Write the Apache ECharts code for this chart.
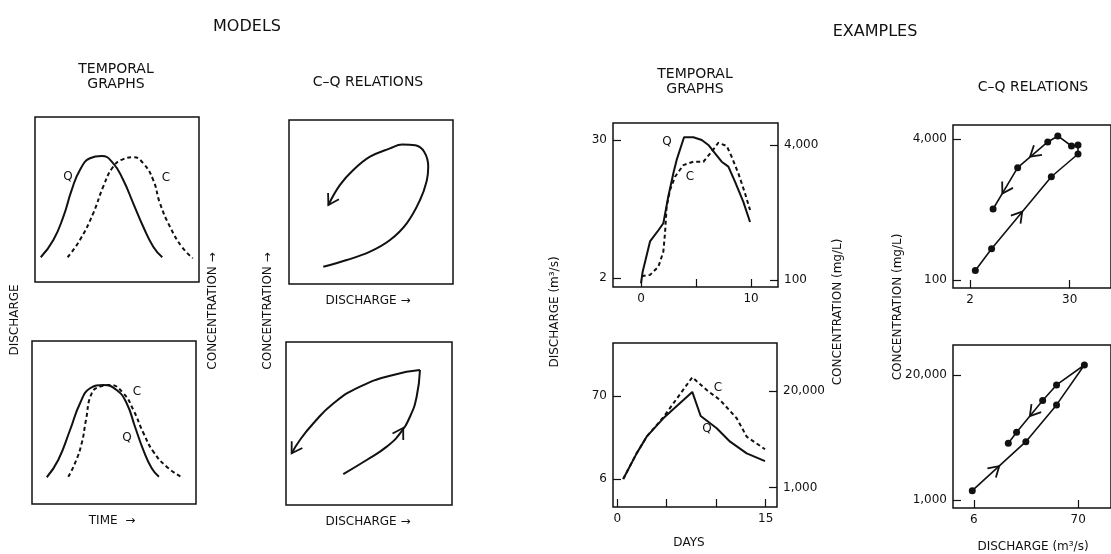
<!DOCTYPE html>
<html><head><meta charset="utf-8">
<script src="https://cdn.jsdelivr.net/npm/echarts@6/dist/echarts.min.js"></script>
<style>html,body{margin:0;padding:0;background:#fff}#c{width:1111px;height:554px}</style>
</head><body><div id="c"></div>
<script>
// ---------- MODELS (arbitrary units 0-100) ----------
const modelTopQ = [[3.5,15.0],[11.2,25.5],[17.3,39.6],[22.4,55.8],[27.4,67.9],[33.5,75.0],[40.7,76.4],[47.7,71.9],[53.8,61.8],[59.9,47.7],[66.0,33.5],[72.1,21.4],[77.6,15.0]];
const modelTopC = [[19.9,15.0],[27.4,25.5],[35.5,41.6],[41.6,57.8],[47.7,69.9],[53.8,74.5],[59.9,75.6],[66.0,71.9],[72.1,61.8],[76.2,47.7],[82.3,33.5],[89.5,21.4],[96.2,14.4]];
const modelBotQ = [[9.0,16.4],[16.0,27.0],[23.2,45.4],[29.3,61.8],[35.4,71.0],[43.5,73.0],[51.6,69.9],[57.7,61.8],[62.8,47.4],[67.9,33.1],[73.0,21.9],[77.4,16.7]];
const modelBotC = [[22.1,16.7],[26.2,25.0],[30.3,37.2],[32.9,51.5],[36.4,67.9],[41.5,72.0],[47.6,73.0],[55.7,67.9],[61.8,57.7],[68.0,43.4],[74.0,32.1],[82.1,22.9],[91.3,16.4]];
const modelLoopTop = [[20.9,10.5],[35.2,14.6],[49.4,19.7],[61.6,26.8],[71.8,37.0],[79.9,51.2],[84.0,63.0],[84.9,71.5],[82.5,80.5],[77.0,84.6],[69.0,85.0],[61.6,82.7],[49.4,77.6],[39.2,69.5],[31.1,60.4],[24.0,48.2]];
const modelLoopTopArrows = [[31.1,60.4,24.0,48.2]];
const modelLoopBotRise = [[34.5,19.0],[48.6,27.6],[60.7,35.8],[68.7,44.0],[74.7,54.2],[78.7,66.4],[80.7,82.8]];
const modelLoopBotFall = [[80.7,82.8],[64.6,79.8],[44.6,72.6],[28.5,62.3],[16.4,50.0],[8.4,39.9],[3.4,31.7]];
const modelLoopBotArrows = [[68.7,44.0,70.6,47.2],[8.4,39.9,3.4,31.7]];

// ---------- EXAMPLES ----------
// top temporal: [day, discharge m3/s] and [day, concentration mg/L]
const exTopQ = [[0,1.8],[0.15,2.26],[0.82,4.1],[1.58,5.1],[2.03,5.85],[2.48,9.9],[2.94,15.6],[3.24,20.3],[3.91,31.7],[4.76,31.7],[5.52,30],[6.12,27.2],[6.73,23.1],[7.33,19.6],[7.94,17.8],[8.55,13.2],[9.3,8.9],[9.91,6.0]];
const exTopC = [[0.06,111],[0.82,115],[1.58,144],[2.03,217],[2.18,358],[2.33,741],[2.64,1170],[3.09,1680],[3.85,2310],[4.76,2530],[5.67,2530],[6.42,3330],[7.03,4250],[7.79,3890],[8.24,2900],[8.85,1840],[9.45,1070],[9.91,676]];
// bottom temporal
const exBotQ = [[0.6,6.0],[1.96,12.8],[2.97,21.0],[4.65,36.1],[7.58,79],[8.43,38.7],[10.05,26.9],[11.4,18.1],[13.08,12.8],[14.93,10.2]];
const exBotC = [[0.6,1310],[1.96,2900],[2.97,4850],[4.65,8850],[7.58,30600],[9.04,20600],[10.39,15100],[12.07,8590],[13.08,4850],[14.93,3290]];
// C-Q relations: [discharge, concentration]
const exCQTop = [[2.30,128],[3.58,227],[18.2,1490],[37.6,2700],[37.6,3420],[31.5,3330],[21.7,4330],[16.5,3700],[7.28,1890],[3.73,641]];
const exCQTopArrows = [[3.58,227,8.24,597],[16.5,3700,10.2,2520],[7.28,1890,4.8,962]];
const exCQBot = [[5.78,1250],[20.4,4060],[42,9820],[80.9,25600],[42,15850],[30.3,10900],[16.4,5090],[13.5,3910]];
const exCQBotArrows = [[30.3,10900,22.4,7500],[5.78,1250,10.9,2260]];

// tick values
const exTopDayTicks = [0,5,10], exTopDayLabels = [0,10];
const exBotDayTicks = [0,5,10,15], exBotDayLabels = [0,15];
const exTopQTicks = [2,30], exTopCTicks = [100,4000];
const exBotQTicks = [6,70], exBotCTicks = [1000,20000];
const exCQTopXTicks = [2,30], exCQTopYTicks = [100,4000];
const exCQBotXTicks = [6,70], exCQBotYTicks = [1000,20000];

// ---------- helpers ----------
const L10 = Math.log10;
const logY = arr => arr.map(p => [p[0], L10(p[1])]);
const logXY = arr => arr.map(p => [L10(p[0]), L10(p[1])]);
const logArrowXY = arr => arr.map(a => [L10(a[0]), L10(a[1]), L10(a[2]), L10(a[3])]);
const comma = n => String(n).replace(/\B(?=(\d{3})+(?!\d))/g, ',');
const fmtLog = v => comma(Math.round(Math.pow(10, v)));
const INK = '#111';
const FONT = 'DejaVu Sans';

const grids = [
  {left:35, top:117, width:164, height:165},
  {left:32, top:341, width:164, height:163},
  {left:289, top:120, width:164, height:164},
  {left:286, top:342, width:166, height:163},
  {left:613, top:123, width:165, height:164},
  {left:613, top:343, width:164, height:164},
  {left:953, top:125, width:172, height:163},
  {left:953, top:345, width:172, height:163}
].map(g => Object.assign({show:true, borderColor:INK, borderWidth:1.5, backgroundColor:'transparent'}, g));

const hidden = i => ({type:'value', gridIndex:i, min:0, max:100, show:false});
const tickStyle = {show:true, inside:true, length:8, lineStyle:{color:INK, width:1.2}};
const labStyle = {color:INK, fontFamily:FONT, fontSize:12, margin:6};
function axis(i, min, max, ticks, labels, pos, isLog) {
  return {
    type:'value', gridIndex:i, min:min, max:max, position:pos,
    axisLine:{show:false, onZero:false}, splitLine:{show:false},
    axisTick:Object.assign({customValues: isLog ? ticks.map(L10) : ticks}, tickStyle),
    axisLabel:Object.assign({customValues: isLog ? labels.map(L10) : labels,
      formatter: isLog ? fmtLog : (v => String(Math.round(v)))}, labStyle)
  };
}

const xAxes = [
  hidden(0), hidden(1), hidden(2), hidden(3),
  axis(4, -2.545, 12.45, exTopDayTicks, exTopDayLabels, 'bottom', false),
  axis(5, -0.43, 16.14, exBotDayTicks, exBotDayLabels, 'bottom', false),
  axis(6, 0.098, 1.965, exCQTopXTicks, exCQTopXTicks, 'bottom', true),
  axis(7, 0.565, 2.180, exCQBotXTicks, exCQBotXTicks, 'bottom', true)
];
const yAxes = [
  hidden(0), hidden(1), hidden(2), hidden(3),
  axis(4, 0.224, 1.622, exTopQTicks, exTopQTicks, 'left', true),
  axis(5, 0.418, 2.526, exBotQTicks, exBotQTicks, 'left', true),
  axis(6, 1.909, 3.761, exCQTopYTicks, exCQTopYTicks, 'left', true),
  axis(7, 2.9165, 4.617, exCQBotYTicks, exCQBotYTicks, 'left', true),
  axis(4, 1.917, 3.863, exTopCTicks, exTopCTicks, 'right', true),
  axis(5, 2.74, 4.947, exBotCTicks, exBotCTicks, 'right', true)
];

function line(data, xi, yi, opts) {
  opts = opts || {};
  return {
    type:'line', data:data, xAxisIndex:xi, yAxisIndex:yi,
    smooth: opts.smooth || false, symbol: opts.symbol || 'none', symbolSize: opts.symbolSize || 7,
    itemStyle:{color:INK}, silent:true, animation:false,
    lineStyle:{color:INK, width: opts.width || 1.8, type: opts.dash ? [4,3] : 'solid'}
  };
}
function chevron(params, api) {
  const tail = api.coord([api.value(0), api.value(1)]);
  const tip = api.coord([api.value(2), api.value(3)]);
  const ang = Math.atan2(tip[1] - tail[1], tip[0] - tail[0]);
  const L = 12, h = 0.55;
  const p1 = [tip[0] - L * Math.cos(ang - h), tip[1] - L * Math.sin(ang - h)];
  const p2 = [tip[0] - L * Math.cos(ang + h), tip[1] - L * Math.sin(ang + h)];
  return {type:'polyline', shape:{points:[p1, tip, p2]}, style:{stroke:INK, lineWidth:1.8, fill:null}};
}
function arrows(data, xi, yi) {
  return {type:'custom', data:data, xAxisIndex:xi, yAxisIndex:yi, renderItem:chevron, silent:true, animation:false, clip:false};
}

const series = [
  line(modelTopQ, 0, 0, {smooth:0.5, width:2}),
  line(modelTopC, 0, 0, {smooth:0.5, width:2, dash:true}),
  line(modelBotQ, 1, 1, {smooth:0.5, width:2}),
  line(modelBotC, 1, 1, {smooth:0.5, width:2, dash:true}),
  line(modelLoopTop, 2, 2, {smooth:0.4, width:2}),
  arrows(modelLoopTopArrows, 2, 2),
  line(modelLoopBotRise, 3, 3, {smooth:0.5, width:2}),
  line(modelLoopBotFall, 3, 3, {smooth:0.5, width:2}),
  arrows(modelLoopBotArrows, 3, 3),
  line(logY(exTopQ), 4, 4, {width:2}),
  line(logY(exTopC), 4, 8, {width:2, dash:true}),
  line(logY(exBotQ), 5, 5, {width:2}),
  line(logY(exBotC), 5, 9, {width:2, dash:true}),
  line(logXY(exCQTop), 6, 6, {width:1.6, symbol:'circle', symbolSize:7}),
  arrows(logArrowXY(exCQTopArrows), 6, 6),
  line(logXY(exCQBot), 7, 7, {width:1.6, symbol:'circle', symbolSize:7}),
  arrows(logArrowXY(exCQBotArrows), 7, 7)
];

function txt(s, x, y, size, rot, weight) {
  return {type:'text', x:x, y:y, rotation: rot ? Math.PI / 2 : 0, silent:true,
    style:{text:s, fill:INK, font:(weight || 'normal') + ' ' + size + 'px "' + FONT + '"',
      fontSize:size, fontFamily:FONT, align:'center', verticalAlign:'middle',
      textAlign:'center', textVerticalAlign:'middle', lineHeight:size + 1}};
}
const graphics = [
  txt('MODELS', 247, 27, 16),
  txt('EXAMPLES', 875, 32, 16),
  txt('TEMPORAL\nGRAPHS', 116, 77, 14),
  txt('C–Q RELATIONS', 368, 82, 14),
  txt('TEMPORAL\nGRAPHS', 695, 82, 14),
  txt('C–Q RELATIONS', 1033, 87, 14),
  txt('DISCHARGE', 15, 320, 12, true),
  txt('CONCENTRATION →', 213, 311, 12, true),
  txt('CONCENTRATION →', 268, 311, 12, true),
  txt('DISCHARGE →', 368, 301, 12),
  txt('DISCHARGE →', 368, 522, 12),
  txt('TIME  →', 112, 521, 12),
  txt('Q', 68, 177, 12), txt('C', 166, 178, 12),
  txt('C', 137, 392, 12), txt('Q', 127, 438, 12),
  txt('DISCHARGE (m³/s)', 555, 312, 12, true),
  txt('CONCENTRATION (mg/L)', 838, 312, 12, true),
  txt('CONCENTRATION (mg/L)', 898, 307, 12, true),
  txt('Q', 667, 142, 12), txt('C', 690, 177, 12),
  txt('C', 718, 388, 12), txt('Q', 707, 429, 12),
  txt('DAYS', 689, 543, 12),
  txt('DISCHARGE (m³/s)', 1033, 547, 12)
];

const chart = echarts.init(document.getElementById('c'), null, {renderer:'canvas'});
chart.setOption({
  backgroundColor:'#fff', animation:false,
  grid:grids, xAxis:xAxes, yAxis:yAxes, series:series, graphic:graphics
});
</script></body></html>
